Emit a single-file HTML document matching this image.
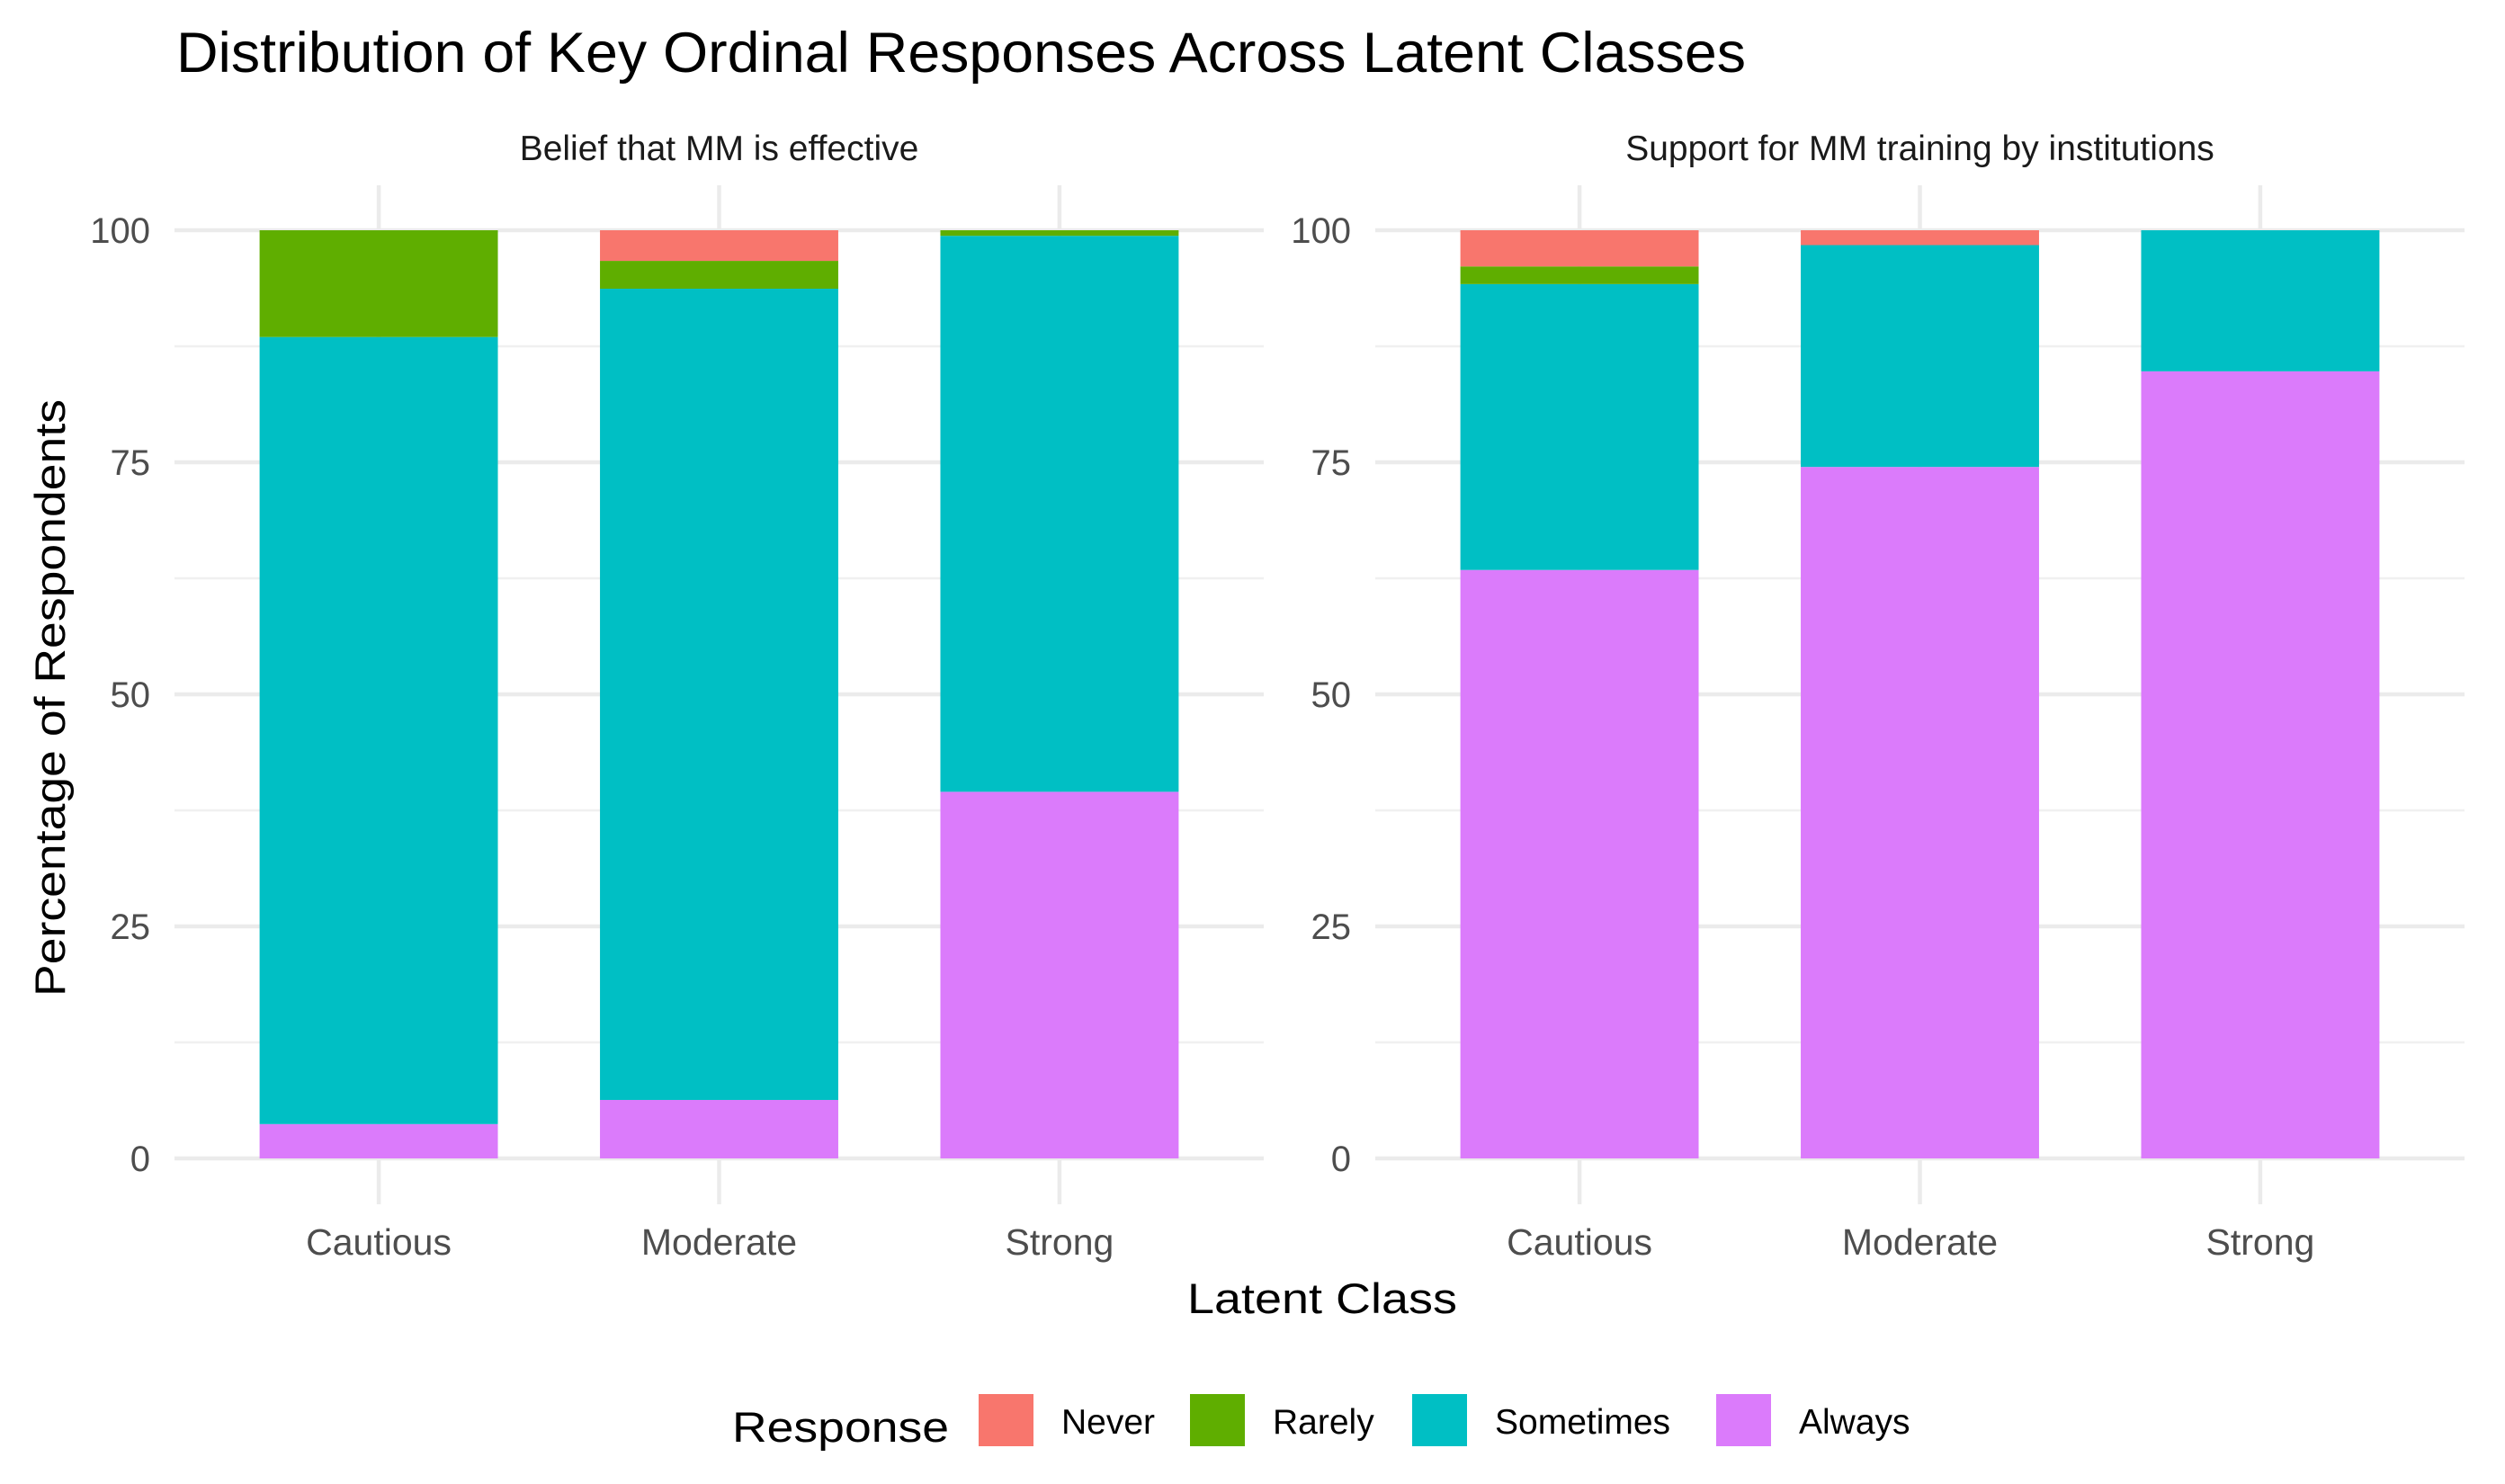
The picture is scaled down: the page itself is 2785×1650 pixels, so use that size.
<!DOCTYPE html>
<html><head><meta charset="utf-8"><style>
html,body{margin:0;padding:0;background:#fff;}
svg{display:block;font-family:"Liberation Sans",Arial,sans-serif;}
</style></head><body>
<svg id="chart" width="2785" height="1650" viewBox="0 0 2785 1650" xmlns="http://www.w3.org/2000/svg">
<text x="196" y="80" font-size="63" fill="#000" textLength="1745" lengthAdjust="spacingAndGlyphs">Distribution of Key Ordinal Responses Across Latent Classes</text>
<text transform="translate(72,776) rotate(-90)" text-anchor="middle" font-size="47" fill="#000" textLength="664" lengthAdjust="spacingAndGlyphs">Percentage of Respondents</text>
<text x="1470" y="1460" text-anchor="middle" font-size="47" fill="#000" textLength="300" lengthAdjust="spacingAndGlyphs">Latent Class</text>
<g id="panels"></g>
<g id="legend">
<text x="814" y="1603" font-size="47" fill="#000" textLength="241" lengthAdjust="spacingAndGlyphs">Response</text>
</g>
</svg>
<script>
const categories = ["Cautious","Moderate","Strong"];
const responses = ["Never","Rarely","Sometimes","Always"];
const colors = ["#F8766D","#5FAE00","#00BFC4","#DB7BFB"];
const panelTitles = ["Belief that MM is effective","Support for MM training by institutions"];
// percentage values per panel, per category: [Never, Rarely, Sometimes, Always]
const beliefNever = [0, 3.3, 0];
const beliefRarely = [11.5, 3.0, 0.6];
const beliefSometimes = [84.8, 87.4, 59.9];
const beliefAlways = [3.7, 6.3, 39.5];
const supportNever = [3.9, 1.6, 0];
const supportRarely = [1.9, 0, 0];
const supportSometimes = [30.8, 23.9, 15.2];
const supportAlways = [63.4, 74.5, 84.8];
const yTicks = [0,25,50,75,100];
const yTickLabels = ["0","25","50","75","100"];

const panelData = [
  [beliefNever, beliefRarely, beliefSometimes, beliefAlways],
  [supportNever, supportRarely, supportSometimes, supportAlways]
];
const NS = "http://www.w3.org/2000/svg";
const panelsG = document.getElementById("panels");
const panelX = [194, 1529];
const panelW = 1211;
const plotTop = 206, plotBottom = 1339;
const y0 = 1288, y100 = 256;
function yScale(v){ return y0 + (y100 - y0) * v / 100; }
function xScale(p, i){ const step = panelW / 3.2; return panelX[p] + step * (0.6 + i); }
const barW = panelW / 3.2 * 0.7;
function mk(tag, attrs, parent){ const e = document.createElementNS(NS, tag); for (const k in attrs) e.setAttribute(k, attrs[k]); parent.appendChild(e); return e; }

panelData.forEach((series, p) => {
  const g = mk("g", {}, panelsG);
  
  
  for (let k = 0; k < 4; k++) {
    const v = 12.5 + 25 * k;
    const l = mk("line", {x1: panelX[p], x2: panelX[p] + panelW, y1: yScale(v), y2: yScale(v), stroke: "#F0F0F0", "stroke-width": 2.5}, g);
    
    
  }
  yTicks.forEach((v, k) => {
    const l = mk("line", {x1: panelX[p], x2: panelX[p] + panelW, y1: yScale(v), y2: yScale(v), stroke: "#EBEBEB", "stroke-width": 4.5}, g);
    
    
    const t = mk("text", {x: panelX[p] - 27, y: yScale(v) + 14, "text-anchor": "end", "font-size": 40, fill: "#4D4D4D"}, g);
    t.textContent = yTickLabels[k];
    
    
  });
  categories.forEach((c, i) => {
    const l = mk("line", {x1: xScale(p, i), x2: xScale(p, i), y1: plotTop, y2: plotBottom, stroke: "#EBEBEB", "stroke-width": 4.5}, g);
    
    
  });
  const strip = mk("text", {x: panelX[p] + panelW / 2, y: 178, "text-anchor": "middle", "font-size": 39, fill: "#1A1A1A"}, g);
  strip.textContent = panelTitles[p];
  
  
  categories.forEach((c, i) => {
    let cum = 0;
    for (let s = 3; s >= 0; s--) {
      const v = series[s][i];
      if (v <= 0) continue;
      const top = yScale(cum + v), bot = yScale(cum);
      const r = mk("rect", {x: xScale(p, i) - barW / 2, y: top, width: barW, height: bot - top, fill: colors[s]}, g);
      
      
      cum += v;
    }
    const t = mk("text", {x: xScale(p, i), y: 1395, "text-anchor": "middle", "font-size": 41, fill: "#4D4D4D"}, g);
    t.textContent = c;
    
    
  });
});

const legend = document.getElementById("legend");
const keyX = [1088, 1323, 1570, 1908];
responses.forEach((r, i) => {
  const k = mk("rect", {x: keyX[i], y: 1550, width: 61, height: 58, fill: colors[i]}, legend);
  
  
  const t = mk("text", {x: keyX[i] + 92, y: 1594, "font-size": 39, fill: "#000"}, legend);
  t.textContent = r;
  
  
});
</script>
</body></html>
